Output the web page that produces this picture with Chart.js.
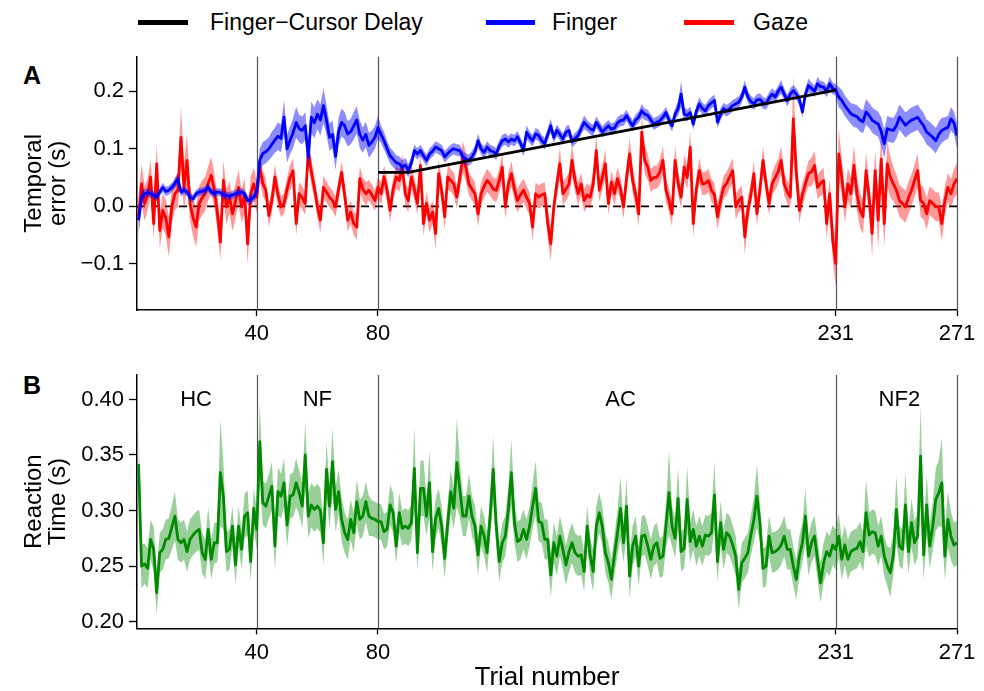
<!DOCTYPE html>
<html>
<head>
<meta charset="utf-8">
<script src="https://cdn.jsdelivr.net/npm/chart.js@4.4.1/dist/chart.umd.min.js"></script>
<style>
  body { margin: 0; background: #fff; width: 984px; height: 691px; overflow: hidden; position: relative; font-family: 'Liberation Sans', Arial, sans-serif; }
  canvas { position: absolute; left: 0; }
  #chartA { top: 0; }
  #chartB { top: 345px; }
  .key { position: absolute; top: 20px; height: 5px; }
  .keytxt { position: absolute; top: 9px; font-size: 23px; line-height: 26px; color: #000; white-space: nowrap; }
  .panel { position: absolute; font-size: 25px; font-weight: bold; color: #000; line-height: 30px; }
</style>
</head>
<body>
<div class="key" style="left:138px;width:50px;background:#000"></div>
<div class="keytxt" style="left:210px">Finger−Cursor Delay</div>
<div class="key" style="left:486px;width:49px;background:#0000ff"></div>
<div class="keytxt" style="left:552px">Finger</div>
<div class="key" style="left:684px;width:50px;background:#ff0000"></div>
<div class="keytxt" style="left:753px">Gaze</div>
<div class="panel" style="left:23px;top:60px">A</div>
<div class="panel" style="left:23px;top:370px">B</div>

<canvas id="chartA" width="984" height="345"></canvas>
<canvas id="chartB" width="984" height="346"></canvas>

<script>
// phase boundaries and labels
const xTicks = [40, 80, 231, 271];
const phaseNames = ['HC', 'NF', 'AC', 'NF2'];
const phaseLabelAt = [20, 60, 160, 252];
const tickA = [-0.1, 0, 0.1, 0.2];
const tickB = [0.20, 0.25, 0.30, 0.35, 0.40];

// finger-cursor delay (trial, seconds)
const delayTrials = [80, 90, 231];
const delayValues = [0.059, 0.059, 0.202];

// all series in ms, one value per trial (1..271)
const finger = [
  -24,15,22,24,22,20,16,25,33,26, 28,33,40,48,25,28,25,16,13,22, 25,26,28,33,25,22,25,24,20,19, 18,20,22,24,25,22,10,12,16,25,
  80,92,95,100,108,115,122,118,155,100, 115,128,146,135,132,140,85,155,145,160, 150,175,150,120,125,87,130,146,140,126, 130,140,150,125,115,125,106,112,120,137,
  125,114,100,88,82,76,74,68,72,62, 75,97,91,97,88,80,91,96,103,100, 97,86,92,97,100,98,97,86,82,80, 86,95,114,100,94,103,97,95,91,105,
  114,117,112,117,114,121,110,97,129,120, 114,126,123,114,109,125,140,120,132,125, 117,129,132,112,118,123,135,146,140,135, 132,146,138,129,135,140,
  134,136,145,149,150,158,148,140,150,155, 166,160,158,150,143,146,149,155,163,150, 140,160,170,195,160,158,163,143,165,178, 170,166,175,180,184,146,160,170,166,170,
  175,178,181,190,207,190,182,178,185,186, 180,178,188,195,190,200,207,195,184,195, 201,195,186,164,195,210,205,200,213,208, 207,200,213,205,202,
  190,184,175,168,161,158,156,150,147,164, 158,150,146,143,130,109,135,133,132,140, 155,148,141,146,150,152,155,147,140,129, 125,120,114,125,132,135,137,152,145,123
];
const fingerSe = [
  25,12,8,7,7,7,7,7,8,8, 8,8,8,10,8,7,7,7,7,7, 7,7,7,8,7,7,7,7,7,7, 7,7,7,7,7,7,8,8,8,10,
  20,20,20,20,22,22,24,24,30,24, 24,26,27,24,24,24,26,27,27,26, 27,30,26,24,24,24,24,24,24,22, 22,24,24,24,22,22,22,20,20,20,
  15,15,14,14,14,13,13,12,12,12, 11,10,10,10,10,10,10,10,10,10, 10,10,10,10,10,10,10,10,10,10, 10,10,12,10,10,10,10,10,10,10,
  10,10,10,10,10,10,10,10,12,10, 10,10,10,10,10,10,12,10,10,10, 10,10,10,10,10,10,10,12,10,10, 10,10,10,10,10,10,
  10,10,10,10,10,10,10,10,10,10, 12,10,10,10,10,10,10,10,10,10, 10,10,12,22,12,10,10,10,10,12, 10,10,10,10,10,10,10,10,10,10,
  10,10,10,10,12,10,10,10,10,10, 10,10,10,10,10,10,12,10,10,10, 10,10,10,10,10,12,10,10,12,10, 10,10,12,10,10,
  18,18,18,18,18,20,20,20,20,22, 22,22,22,22,25,25,22,22,22,22, 22,22,22,22,22,22,22,22,22,22, 22,22,22,22,22,20,20,20,20,22
];
const gaze = [
  -18,39,5,20,51,-30,74,-42,-7,-20, -53,0,22,28,120,33,80,5,-20,-36, 5,15,22,40,54,28,-10,-62,45,-1, 16,-13,10,33,-1,20,-65,22,39,16,
  68,40,28,-16,10,51,20,-1,5,30, 50,62,-30,22,15,5,97,60,33,0, -24,33,25,16,10,-1,30,59,20,-24, -10,-30,-36,48,30,22,28,20,10,33,
  22,51,28,-7,30,51,45,68,22,10, 51,30,5,71,-30,5,-24,-10,-47,57, 28,-18,51,45,39,16,50,86,68,39, 30,22,-13,22,35,45,39,30,28,45,
  68,-1,39,57,30,10,20,28,16,5, -36,22,16,20,22,-30,-65,-1,39,74, 22,30,39,80,45,22,39,10,20,16, 39,97,28,50,74,5,
  42,22,48,30,-1,50,91,45,20,-13, 129,80,68,45,50,51,60,80,28,10, -13,80,40,16,68,50,103,-30,30,62, 39,40,45,28,20,-18,10,33,40,51,
  62,-1,10,16,-53,-7,20,57,-13,30, 80,40,5,39,50,60,80,39,25,16, 152,60,-7,20,39,57,60,71,33,40, 45,-30,22,-59,-99,
  91,51,-1,39,22,71,22,-7,-18,62, 16,-47,62,-24,82,-30,74,51,39,28, 10,5,-1,15,28,45,62,10,5,-13, 10,5,-1,-1,-30,10,33,22,39,48
];
const gazeSe = [
  35,35,30,28,30,28,35,30,30,32, 35,30,28,30,55,40,45,30,32,35, 30,30,30,30,32,30,30,32,35,30, 28,30,30,30,28,30,35,30,28,28,
  25,22,20,20,20,22,20,18,18,20, 22,22,22,20,20,20,25,22,20,20, 22,20,18,18,18,18,18,20,20,20, 20,20,22,22,20,20,18,18,18,18,
  20,20,20,20,20,20,20,22,20,20, 22,20,20,25,22,20,22,20,28,25, 20,22,22,20,20,20,22,28,25,20, 20,20,22,20,20,20,20,20,20,20,
  25,20,20,22,20,20,20,20,20,20, 25,20,20,20,20,25,30,20,20,28, 20,20,20,28,20,20,20,20,20,20, 20,30,20,22,25,20,
  20,20,20,20,20,22,28,22,20,22, 30,25,22,20,20,20,22,25,20,20, 22,25,20,20,22,20,28,25,20,22, 20,20,20,20,20,22,20,20,20,20,
  22,22,20,20,30,22,20,22,22,20, 25,20,20,20,22,22,25,20,20,20, 75,30,22,20,20,22,25,25,20,22, 22,28,25,35,40,
  45,30,28,28,28,35,30,30,30,32, 28,40,35,50,45,40,40,35,30,28, 28,28,28,28,28,28,30,28,28,28, 25,25,25,25,30,25,25,25,25,28
];
const rt = [
  342,250,252,248,274,265,226,262,265,274, 275,285,295,274,271,274,263,274,278,281, 283,262,256,283,256,271,271,334,313,263, 265,286,251,286,265,295,298,254,302,283,
  362,307,304,313,322,268,317,313,325,287, 313,314,325,316,304,350,295,305,301,304, 300,271,337,304,344,301,317,292,280,274, 292,280,308,292,295,308,295,293,292,290,
  290,281,283,305,298,268,298,284,286,284, 289,338,262,320,320,295,325,263,293,302, 286,257,289,317,302,343,319,295,295,313, 295,286,260,286,277,262,295,337,286,254,
  271,277,301,334,289,272,274,283,274,286, 304,320,290,289,274,274,242,271,259,277, 265,251,263,271,262,259,260,245,286,259, 245,286,298,286,262,253,
  238,260,280,302,271,304,241,268,277,250, 277,278,268,256,268,271,257,259,286,316, 286,275,311,263,266,310,272,283,268,277, 268,278,277,280,314,254,289,265,280,277,
  269,259,229,253,257,262,278,292,313,289, 248,250,277,262,263,265,269,277,265,265, 250,238,259,271,295,259,271,277,256,235, 253,263,259,269,265,
  277,256,269,256,263,265,266,272,263,298, 278,281,280,268,277,259,250,244,260,301, 268,265,305,263,289,271,277,349,260,305, 268,286,310,316,325,259,292,277,269,271
];
const rtSe = [
  35,20,18,18,18,20,20,18,18,18, 18,20,22,18,18,18,18,18,18,18, 18,18,18,20,18,18,18,48,30,18, 18,18,18,18,18,20,20,18,18,18,
  35,20,20,20,22,22,22,20,22,20, 20,20,22,20,20,30,20,20,20,20, 20,20,25,20,30,20,20,20,18,18, 18,18,20,18,18,18,18,16,16,16,
  16,16,16,18,18,16,18,16,16,16, 16,38,16,25,25,18,30,18,18,18, 18,18,18,20,18,40,25,18,18,20, 18,18,18,18,18,18,18,30,18,18,
  18,18,20,30,18,18,18,18,18,18, 20,25,18,18,18,18,20,18,18,18, 18,18,18,18,18,18,18,18,18,18, 18,18,18,18,18,18,
  18,18,20,28,18,25,20,18,18,18, 18,18,18,18,18,18,18,18,20,38, 18,18,28,18,18,30,18,18,18,18, 18,18,18,18,30,18,20,18,18,18,
  18,18,18,18,18,18,18,20,28,18, 18,18,18,18,18,18,18,18,18,18, 18,18,18,18,25,18,18,18,18,18, 18,18,18,18,18,
  20,18,18,18,18,18,18,18,18,30, 20,20,20,18,18,18,18,22,18,30, 18,18,30,20,22,20,20,45,22,28, 20,22,28,30,40,22,25,22,20,20
];

const N = 271;
[['finger', finger], ['fingerSe', fingerSe], ['gaze', gaze], ['gazeSe', gazeSe], ['rt', rt], ['rtSe', rtSe]].forEach(([n, a]) => {
    if (a.length !== N) throw new Error(n + ' has ' + a.length + ' values');
});
const trials = Array.from({length: N}, (_, i) => i + 1);

const pts = (arr, sign, se) => trials.map((t, i) => ({x: t, y: (arr[i] + (se ? sign * se[i] : 0)) / 1000}));

const FONT = "'Liberation Sans', Arial, sans-serif";
Chart.defaults.font.family = FONT;
Chart.defaults.color = '#000';

function lineSet(data, color, width) {
    return { data: data, borderColor: color, borderWidth: width, pointRadius: 0, fill: false, borderJoinStyle: 'round', tension: 0 };
}
function bandSet(data, color, fill) {
    return { data: data, borderWidth: 0, borderColor: 'rgba(0,0,0,0)', backgroundColor: color, pointRadius: 0, fill: fill, tension: 0 };
}

// phase lines, zero line, phase names
const phasePlugin = {
    id: 'phases',
    beforeDatasetsDraw(chart, args, opts) {
        const {ctx, chartArea: a, scales: {x, y}} = chart;
        ctx.save();
        ctx.strokeStyle = '#555';
        ctx.lineWidth = 1.2;
        xTicks.forEach(v => {
            const px = Math.round(x.getPixelForValue(v)) + 0.5;
            ctx.beginPath(); ctx.moveTo(px, a.top); ctx.lineTo(px, a.bottom); ctx.stroke();
        });
        if (opts.zero) {
            const py = y.getPixelForValue(0);
            ctx.strokeStyle = '#000';
            ctx.lineWidth = 1.6;
            ctx.setLineDash([8, 6]);
            ctx.beginPath(); ctx.moveTo(a.left, py); ctx.lineTo(a.right, py); ctx.stroke();
        }
        ctx.restore();
    },
    afterDatasetsDraw(chart, args, opts) {
        if (!opts.names) return;
        const {ctx, chartArea: a, scales: {x}} = chart;
        ctx.save();
        ctx.font = '22px ' + FONT;
        ctx.fillStyle = '#000';
        ctx.textAlign = 'center';
        ctx.textBaseline = 'middle';
        phaseNames.forEach((n, i) => ctx.fillText(n, x.getPixelForValue(phaseLabelAt[i]), a.top + 25));
        ctx.restore();
    }
};

function xScale(titleText) {
    return {
        type: 'linear', min: 0.5, max: 271,
        afterBuildTicks: s => { s.ticks = xTicks.map(v => ({value: v})); },
        afterFit: s => { s.height = titleText ? 62.7 : 35; },
        ticks: { font: { size: 22 }, color: '#000', padding: 5, maxRotation: 0, autoSkip: false, callback: v => String(v) },
        grid: { drawOnChartArea: false, drawTicks: true, tickLength: 6, tickColor: '#000', tickWidth: 1.3 },
        border: { display: true, color: '#000', width: 1.5 },
        title: { display: !!titleText, text: titleText || '', font: { size: 26, lineHeight: 1.0 }, color: '#000', padding: { top: 0, bottom: 0 } }
    };
}
function yScale(min, max, ticks, fmt, title) {
    return {
        min: min, max: max,
        afterBuildTicks: s => { s.ticks = ticks.map(v => ({value: v})); },
        afterFit: s => { s.width = 137; },
        ticks: { font: { size: 22 }, color: '#000', padding: 5, callback: fmt },
        grid: { drawOnChartArea: false, drawTicks: true, tickLength: 8, tickColor: '#000', tickWidth: 1.3 },
        border: { display: true, color: '#000', width: 1.5 },
        title: { display: true, text: title, font: { size: 24, lineHeight: 1.0 }, color: '#000', padding: { top: 22, bottom: 0 } }
    };
}

const common = {
    responsive: false, animation: false, devicePixelRatio: 1,
    plugins: { legend: { display: false }, tooltip: { enabled: false } },
    events: []
};

new Chart(document.getElementById('chartA'), {
    type: 'line',
    data: {
        datasets: [
            lineSet(delayTrials.map((t, i) => ({x: t, y: delayValues[i]})), '#000', 2.8),
            lineSet(pts(finger, 0), '#0000ff', 2.8),
            bandSet(pts(finger, 1, fingerSe), 'rgba(0,0,255,0.45)', '+1'),
            bandSet(pts(finger, -1, fingerSe), 'rgba(0,0,0,0)', false),
            lineSet(pts(gaze, 0), '#ff0000', 2.8),
            bandSet(pts(gaze, 1, gazeSe), 'rgba(255,0,0,0.4)', '+1'),
            bandSet(pts(gaze, -1, gazeSe), 'rgba(0,0,0,0)', false)
        ]
    },
    options: Object.assign({}, common, {
        layout: { padding: { top: 56.7, right: 27, left: 0, bottom: 0 } },
        plugins: Object.assign({}, common.plugins, { phases: { zero: true } }),
        scales: {
            x: xScale(null),
            y: yScale(-0.18, 0.26, tickA, v => v < 0 ? '\u2212' + Math.abs(v).toFixed(1) : v.toFixed(1), ['Temporal', 'error (s)'])
        }
    }),
    plugins: [phasePlugin]
});

new Chart(document.getElementById('chartB'), {
    type: 'line',
    data: {
        datasets: [
            lineSet(pts(rt, 0), '#008a00', 2.8),
            bandSet(pts(rt, 1, rtSe), 'rgba(0,135,0,0.4)', '+1'),
            bandSet(pts(rt, -1, rtSe), 'rgba(0,0,0,0)', false)
        ]
    },
    options: Object.assign({}, common, {
        layout: { padding: { top: 30, right: 27, left: 0, bottom: 0 } },
        plugins: Object.assign({}, common.plugins, { phases: { names: true } }),
        scales: {
            x: xScale('Trial number'),
            y: yScale(0.194, 0.422, tickB, v => v.toFixed(2), ['Reaction', 'Time (s)'])
        }
    }),
    plugins: [phasePlugin]
});
</script>
</body>
</html>
